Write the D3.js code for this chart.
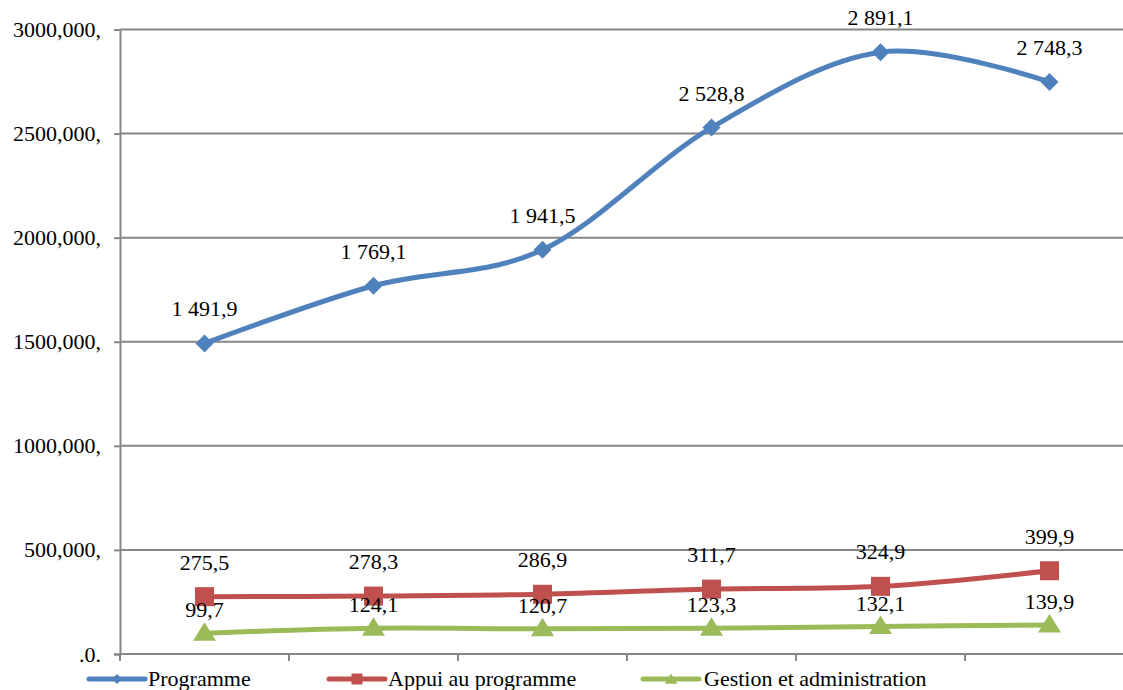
<!DOCTYPE html>
<html>
<head>
<meta charset="utf-8">
<script src="https://cdn.jsdelivr.net/npm/d3@7/dist/d3.min.js"></script>
<style>
  html, body { margin: 0; padding: 0; background: #fff; overflow: hidden; }
  svg { display: block; }
</style>
</head>
<body>
<svg id="chart" width="1123" height="690"></svg>
<script>
// Categories along the x axis (not labelled on the chart)
const categories = ["1", "2", "3", "4", "5", "6"];

// Series values
const programme = [1491.9, 1769.1, 1941.5, 2528.8, 2891.1, 2748.3];
const appui     = [275.5, 278.3, 286.9, 311.7, 324.9, 399.9];
const gestion   = [99.7, 124.1, 120.7, 123.3, 132.1, 139.9];

// Y axis ticks and their labels
const yTicks      = [0, 500, 1000, 1500, 2000, 2500, 3000];
const yTickLabels = [".0.", "500,000,", "1000,000,", "1500,000,", "2000,000,", "2500,000,", "3000,000,"];

const seriesNames = ["Programme", "Appui au programme", "Gestion et administration"];

const series = [
  { name: seriesNames[0], values: programme, color: "#4F81BD", marker: "diamond",  labelDy: -27 },
  { name: seriesNames[1], values: appui,     color: "#C0504D", marker: "square",   labelDy: -27 },
  { name: seriesNames[2], values: gestion,   color: "#9BBB59", marker: "triangle", labelDy: -16 }
];

const svg = d3.select("#chart");
const plotLeft = 120, plotRight = 1134, plotTop = 29.5, plotBottom = 654;
const gridColor = "#868686";
const fontSize = 22;
const fontStyle = `font-family: 'Liberation Serif'; font-size: ${fontSize}px;`;

const x = d3.scaleBand().domain(categories).range([plotLeft, plotRight]);
const y = d3.scaleLinear().domain([0, 3000]).range([plotBottom, plotTop]);

const fmt = d3.formatLocale({ decimal: ",", thousands: " ", grouping: [3], currency: ["", ""] }).format(",.1f");

// Horizontal gridlines
svg.append("g").selectAll("line").data(yTicks.filter(d => d > 0)).join("line")
  .attr("x1", plotLeft).attr("x2", plotRight)
  .attr("y1", d => y(d)).attr("y2", d => y(d))
  .attr("stroke", gridColor).attr("stroke-width", 2);

// Y axis
const yAxis = d3.axisLeft(y).tickValues(yTicks).tickSize(6).tickPadding(13)
  .tickFormat((d, i) => yTickLabels[i]);
const gy = svg.append("g").attr("transform", `translate(${plotLeft},0)`).call(yAxis);
gy.attr("font-family", null).attr("font-size", null);
gy.select(".domain").attr("stroke", gridColor).attr("stroke-width", 2);
gy.selectAll(".tick line").attr("stroke", gridColor).attr("stroke-width", 2);
gy.selectAll(".tick text").attr("style", fontStyle).attr("fill", "#000");

// X axis with ticks at category boundaries
const boundaries = categories.map(c => x(c)).concat([plotRight]);
svg.append("line").attr("x1", plotLeft).attr("x2", plotRight).attr("y1", plotBottom).attr("y2", plotBottom)
  .attr("stroke", gridColor).attr("stroke-width", 2);
svg.append("g").selectAll("line").data(boundaries).join("line")
  .attr("x1", d => d).attr("x2", d => d)
  .attr("y1", plotBottom).attr("y2", plotBottom + 7)
  .attr("stroke", gridColor).attr("stroke-width", 2);

// Marker shapes
function markerPath(type, s) {
  if (type === "diamond") return `M0,${-s}L${s},0L0,${s}L${-s},0Z`;
  if (type === "square") return `M${-s},${-s}H${s}V${s}H${-s}Z`;
  return `M0,${-s}L${s * 1.15},${s * 0.85}L${-s * 1.15},${s * 0.85}Z`;
}
const markerSize = { diamond: 9, square: 9.5, triangle: 10 };

const cx = i => x(categories[i]) + x.bandwidth() / 2;
const line = d3.line().x((d, i) => cx(i)).y(d => y(d)).curve(d3.curveCardinal.tension(0));

series.forEach(s => {
  const g = svg.append("g");
  g.append("path").datum(s.values)
    .attr("d", line).attr("fill", "none")
    .attr("stroke", s.color).attr("stroke-width", 5).attr("stroke-linejoin", "round");
  g.selectAll("path.m").data(s.values).join("path").attr("class", "m")
    .attr("transform", (d, i) => `translate(${cx(i)},${y(d) + (s.marker === "triangle" ? -1 : 0)})`)
    .attr("d", markerPath(s.marker, markerSize[s.marker]))
    .attr("fill", s.color);
  g.selectAll("text").data(s.values).join("text")
    .attr("x", (d, i) => cx(i)).attr("y", d => y(d) + s.labelDy)
    .attr("text-anchor", "middle").attr("style", fontStyle).attr("fill", "#000")
    .text(d => fmt(d));
});

// Legend
const legendItems = [
  { x0: 89,  x1: 145, tx: 148 },
  { x0: 329, x1: 385, tx: 388 },
  { x0: 643, x1: 699, tx: 704 }
];
const legendY = 679;
series.forEach((s, i) => {
  const it = legendItems[i];
  const g = svg.append("g");
  g.append("line").attr("x1", it.x0).attr("x2", it.x1).attr("y1", legendY).attr("y2", legendY)
    .attr("stroke", s.color).attr("stroke-width", 5).attr("stroke-linecap", "round");
  g.append("path")
    .attr("transform", `translate(${(it.x0 + it.x1) / 2},${legendY})`)
    .attr("d", markerPath(s.marker, s.marker === "diamond" ? 5 : 5.5))
    .attr("fill", s.color);
  g.append("text").attr("x", it.tx).attr("y", legendY + 7)
    .attr("style", fontStyle).attr("fill", "#000").text(s.name);
});
</script>
</body>
</html>
